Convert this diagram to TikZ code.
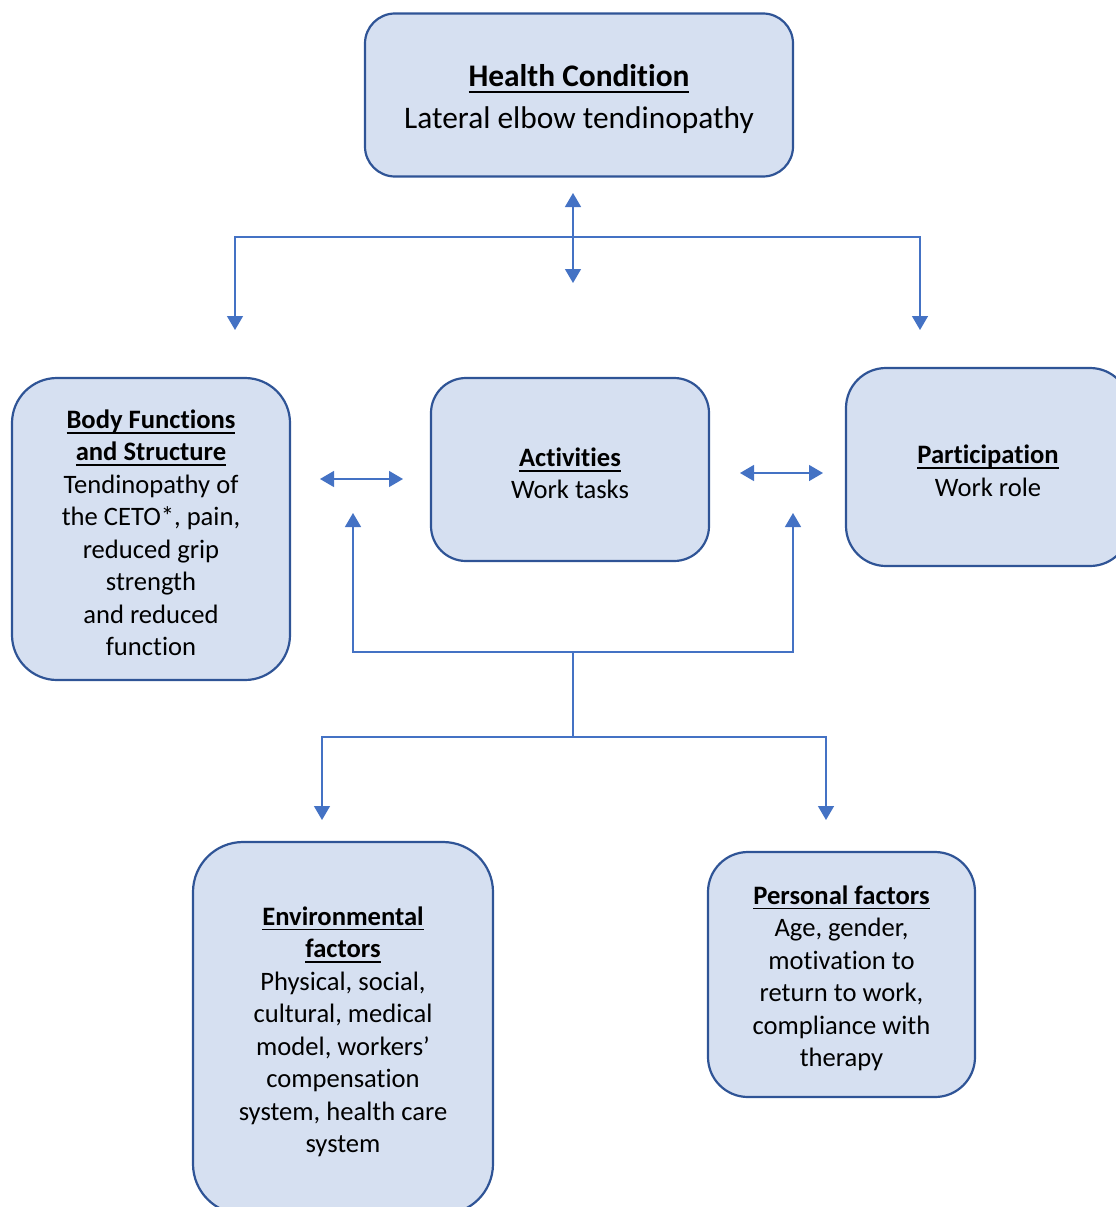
\documentclass[tikz,border=0pt]{standalone}
\usepackage{fontspec}
\setmainfont{Carlito}[Ligatures=NoCommon]
\usetikzlibrary{arrows.meta}
\definecolor{boxfill}{HTML}{D6E0F1}
\definecolor{boxline}{HTML}{2F5496}
\definecolor{linkblue}{HTML}{4472C4}
% bold heading with a rule set at a fixed depth below the baseline,
% preceded by a strut that lowers the text block a little in its box
\newsavebox\hdbox
\newcommand\hd[1]{\sbox\hdbox{\textbf{#1}}\rlap{\rule[-0.2em]{\wd\hdbox}{0.065em}}\usebox\hdbox}
\newcommand\topstrut{\rule{0pt}{0.98em}}
\tikzset{
  box/.style={draw=boxline, line width=2.2pt, fill=boxfill, rounded corners=#1,
    align=center, inner sep=0pt, font=\fontsize{26.6}{32.5}\selectfont},
  link/.style={draw=linkblue, line width=1.4pt},
  arrowboth/.style={{Triangle[length=14pt,width=16pt]}-{Triangle[length=14pt,width=16pt]}},
}
\begin{document}
\begin{tikzpicture}[x=1pt,y=-1pt]
\useasboundingbox (0,0) rectangle (1116,1207);

% boxes
\node[box=30pt, minimum width=428pt, minimum height=163pt,
      font=\fontsize{31.4}{42}\selectfont] (hc) at (579,95)
  {\topstrut\hd{Health Condition}\\Lateral elbow tendinopathy};
\node[box=45pt, minimum width=278pt, minimum height=302pt] (bfs) at (151,529)
  {\topstrut\hd{Body Functions}\\\hd{and Structure}\\Tendinopathy of\\the CETO*, pain,\\reduced grip\\strength\\and reduced\\function};
\node[box=35pt, minimum width=278pt, minimum height=183pt] (act) at (570,469.5)
  {\topstrut\hd{Activities}\\Work tasks};
\node[box=40pt, minimum width=284pt, minimum height=198pt] (par) at (988,467)
  {\topstrut\hd{Participation}\\Work role};
\node[box=50pt, minimum width=300pt, minimum height=372pt] (env) at (343,1028)
  {\topstrut\hd{Environmental}\\\hd{factors}\\Physical, social,\\cultural, medical\\model, workers’\\compensation\\system, health care\\system};
\node[box=40pt, minimum width=267pt, minimum height=245pt] (per) at (841.5,974.5)
  {\topstrut\hd{Personal factors}\\Age, gender,\\motivation to\\return to work,\\compliance with\\therapy};

% connector points
\coordinate (hcA) at (573,193);
\coordinate (hcB) at (573,283);
\coordinate (tl) at (235,237);
\coordinate (tr) at (920,237);
\coordinate (tlEnd) at (235,330);
\coordinate (trEnd) at (920,330);
\coordinate (lA) at (320,479);
\coordinate (lB) at (403,479);
\coordinate (rA) at (740,473);
\coordinate (rB) at (823,473);
\coordinate (bL) at (353,513);
\coordinate (bLc) at (353,652);
\coordinate (bRc) at (793,652);
\coordinate (bR) at (793,513);
\coordinate (stemTop) at (573,652);
\coordinate (stemBot) at (573,737);
\coordinate (fL) at (322,737);
\coordinate (fR) at (826,737);
\coordinate (fLEnd) at (322,820);
\coordinate (fREnd) at (826,820);

% connectors
\draw[link, arrowboth] (hcA) -- (hcB);
\draw[link, arrowboth] (tlEnd) -- (tl) -- (tr) -- (trEnd);
\draw[link, arrowboth] (lA) -- (lB);
\draw[link, arrowboth] (rA) -- (rB);
\draw[link, arrowboth] (bL) -- (bLc) -- (bRc) -- (bR);
\draw[link] (stemTop) -- (stemBot);
\draw[link, arrowboth] (fLEnd) -- (fL) -- (fR) -- (fREnd);
\end{tikzpicture}
\end{document}
